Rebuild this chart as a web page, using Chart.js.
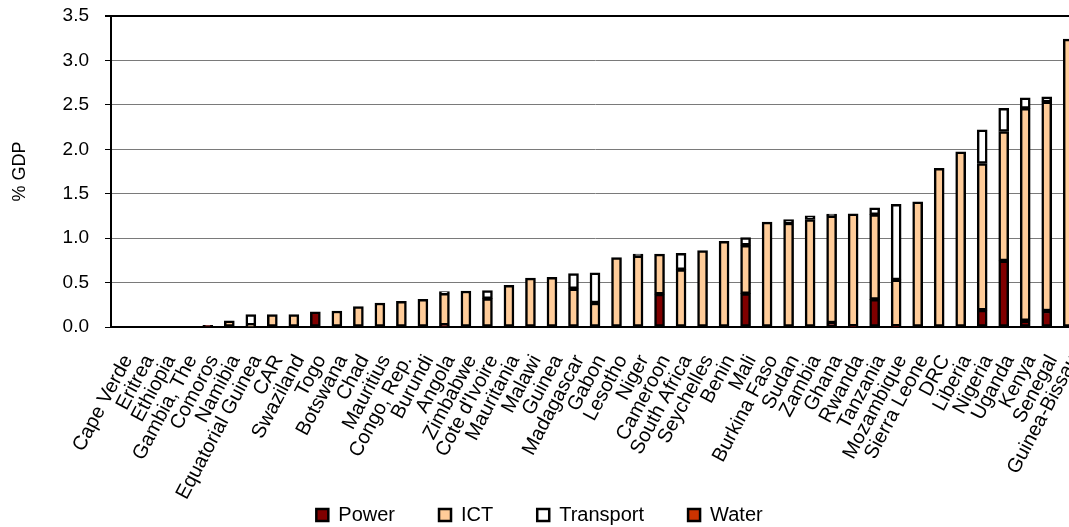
<!DOCTYPE html>
<html>
<head>
<meta charset="utf-8">
<title>Infrastructure spending, % GDP</title>
<script src="https://cdn.jsdelivr.net/npm/chart.js@4/dist/chart.umd.min.js"></script>
<style>
  html, body { margin: 0; padding: 0; background: #fff; overflow: hidden; }
  #wrap { width: 1069px; height: 527px; overflow: hidden; }
</style>
</head>
<body>
<div id="wrap"><canvas id="gdpChart" width="1079" height="535"></canvas></div>
<script>
  // countries, sorted by total
  const countries = ['Cape Verde', 'Eritrea', 'Ethiopia', 'Gambia, The', 'Comoros', 'Namibia',
    'Equatorial Guinea', 'CAR', 'Swaziland', 'Togo', 'Botswana', 'Chad', 'Mauritius', 'Congo, Rep.',
    'Burundi', 'Angola', 'Zimbabwe', "Cote d'Ivoire", 'Mauritania', 'Malawi', 'Guinea', 'Madagascar',
    'Gabon', 'Lesotho', 'Niger', 'Cameroon', 'South Africa', 'Seychelles', 'Benin', 'Mali',
    'Burkina Faso', 'Sudan', 'Zambia', 'Ghana', 'Rwanda', 'Tanzania', 'Mozambique', 'Sierra Leone',
    'DRC', 'Liberia', 'Nigeria', 'Uganda', 'Kenya', 'Senegal', 'Guinea-Bissau']

  const power = [0, 0, 0, 0, 0.02, 0, 0, 0, 0, 0.17, 0, 0, 0, 0, 0, 0.02, 0, 0, 0, 0, 0, 0,
    0, 0, 0, 0.37, 0, 0, 0, 0.375, 0, 0, 0, 0.045, 0.01, 0.31, 0.01, 0, 0, 0, 0.19, 0.745, 0.07, 0.18, 0]

  const ict = [0, 0, 0, 0, 0, 0.07, 0.02, 0.14, 0.14, 0, 0.18, 0.23, 0.27, 0.29, 0.31, 0.36, 0.405, 0.32,
    0.47, 0.55, 0.56, 0.43, 0.27, 0.78, 0.80, 0.45, 0.645, 0.86, 0.965, 0.545, 1.18, 1.17, 1.21, 1.205,
    1.265, 0.955, 0.52, 1.41, 1.785, 1.97, 1.65, 1.455, 2.39, 2.355, 3.24]

  const transport = [0, 0, 0, 0, 0, 0, 0.12, 0, 0, 0, 0, 0, 0, 0, 0, 0.02, 0, 0.09, 0, 0, 0, 0.17,
    0.34, 0, 0.02, 0, 0.185, 0, 0, 0.085, 0, 0.04, 0.04, 0.02, 0, 0.075, 0.85, 0, 0, 0, 0.38, 0.26, 0.12, 0.055, 0]

  const water = [0, 0, 0, 0, 0, 0, 0, 0, 0, 0, 0, 0, 0, 0, 0, 0, 0, 0, 0, 0, 0, 0,
    0, 0, 0, 0, 0, 0, 0, 0, 0, 0, 0, 0, 0, 0, 0, 0, 0, 0, 0, 0, 0, 0, 0]

  const yTicks = [0, 0.5, 1.0, 1.5, 2.0, 2.5, 3.0, 3.5]

  const family = 'Liberation Sans, Arial, sans-serif'

  function series(label, data, colour) {
    return {
      label: label,
      data: data,
      backgroundColor: colour,
      borderColor: '#000',
      borderWidth: 2.5,
      borderSkipped: false,
      barThickness: 10
    }
  }

  // wider gaps between legend entries (Excel style), last one left as is
  function legendLabels(chart) {
    let items = Chart.defaults.plugins.legend.labels.generateLabels(chart)
    items.forEach((item, i) => {
      if (i < items.length - 1) item.text = item.text + '\u2003\u2003'
    })
    return items
  }

  let ctx = document.getElementById('gdpChart').getContext('2d')

  let barChart = new Chart(ctx, {
    type: 'bar',
    data: {
      labels: countries,
      datasets: [
        series('Power', power, '#800000'),
        series('ICT', ict, '#FFCC99'),
        series('Transport', transport, '#FFFFFF'),
        series('Water', water, '#CC3300')
      ]
    },
    options: {
      responsive: false,
      animation: false,
      devicePixelRatio: 1,
      layout: { padding: { top: 16, left: 0, right: 0, bottom: 0 } },
      plugins: {
        tooltip: { enabled: false },
        legend: {
          position: 'bottom',
          labels: {
            font: { family: family, size: 20 },
            color: '#000',
            boxWidth: 12,
            boxHeight: 12,
            padding: 4,
            generateLabels: legendLabels
          }
        }
      },
      scales: {
        x: {
          stacked: true,
          grid: { display: false, drawTicks: false },
          border: { display: true, color: '#000', width: 2 },
          ticks: {
            autoSkip: false,
            maxRotation: 62,
            minRotation: 62,
            padding: 24,
            labelOffset: 6,
            font: { family: family, size: 20 },
            color: '#000'
          },
          afterFit: (scale) => {
            scale.height = 174
            scale.paddingLeft = 0
            scale.paddingRight = 0
          }
        },
        y: {
          stacked: true,
          min: 0,
          max: 3.5,
          afterBuildTicks: (scale) => { scale.ticks = yTicks.map(v => ({ value: v })) },
          grid: {
            color: (c) => c.tick && c.tick.value === 3.5 ? '#000' : '#7a7a7a',
            lineWidth: (c) => c.tick && c.tick.value === 3.5 ? 2 : 1,
            tickColor: '#000',
            tickLength: 6
          },
          border: { display: true, color: '#000', width: 2 },
          ticks: {
            padding: 16,
            font: { family: family, size: 19 },
            color: '#000',
            callback: (v) => Number(v).toFixed(1)
          },
          title: {
            display: true,
            text: '% GDP',
            font: { family: family, size: 18 },
            color: '#000',
            padding: { top: 9, bottom: 0 }
          },
          afterFit: (scale) => {
            scale.width = 111
            scale.paddingTop = 0
            scale.paddingBottom = 0
          }
        }
      }
    }
  })
</script>
</body>
</html>
